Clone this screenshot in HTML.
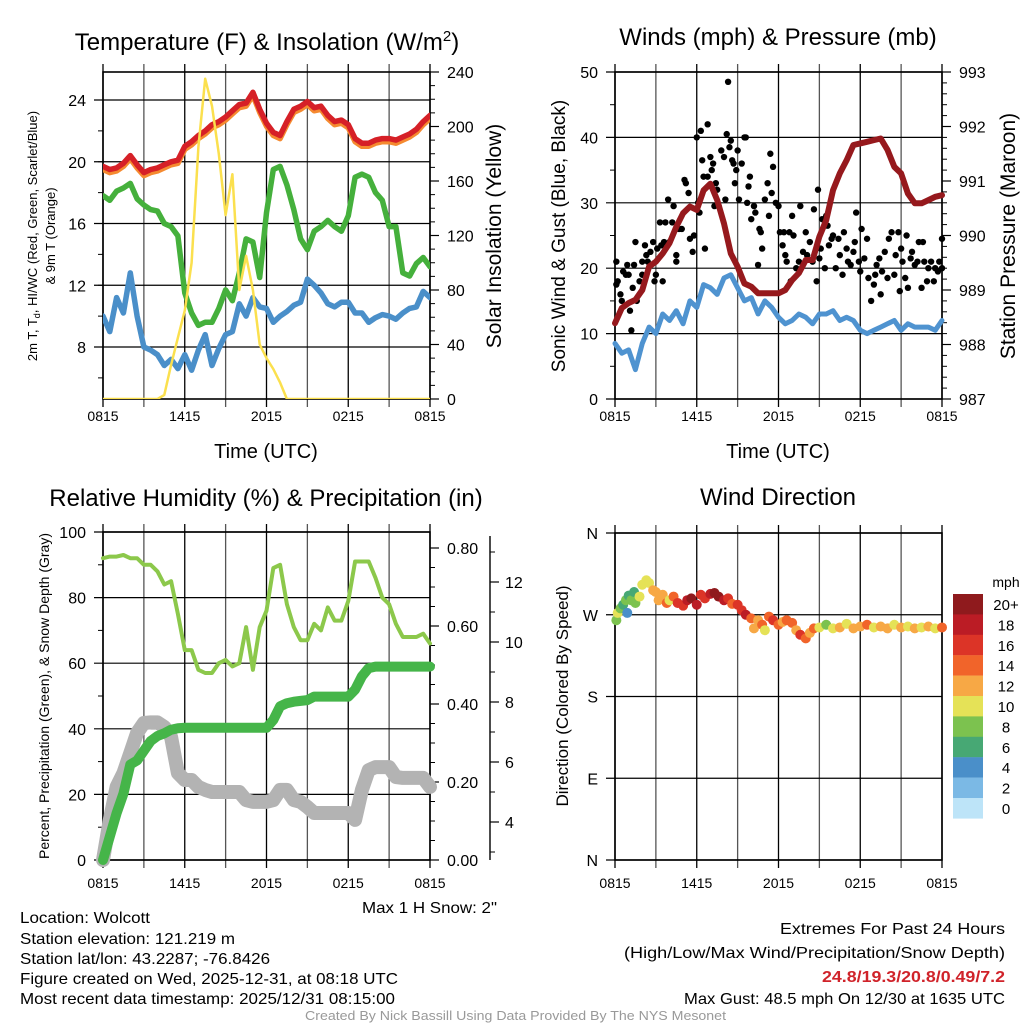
<!DOCTYPE html>
<html><head><meta charset="utf-8"><title>Mesonet Meteogram - Wolcott</title>
<style>
html,body{margin:0;padding:0;background:#fff;}
svg{display:block;font-family:"Liberation Sans",sans-serif;}
.n{font-family:"Liberation Sans Narrow","Liberation Sans",sans-serif;}
</style></head>
<body>
<svg id="fig" width="1024" height="1024" viewBox="0 0 1024 1024" xmlns="http://www.w3.org/2000/svg">
<rect x="0" y="0" width="1024" height="1024" fill="#fff"/>
<text x="267" y="50" font-size="24" text-anchor="middle">Temperature (F) &amp; Insolation (W/m<tspan dy="-9" font-size="15">2</tspan><tspan dy="9">)</tspan></text>
<text x="778" y="45" font-size="24" text-anchor="middle">Winds (mph) &amp; Pressure (mb)</text>
<text x="266" y="506" font-size="24" text-anchor="middle">Relative Humidity (%) &amp; Precipitation (in)</text>
<text x="778" y="505" font-size="24" text-anchor="middle">Wind Direction</text>
<text x="266" y="458" font-size="20" text-anchor="middle">Time (UTC)</text>
<text x="778" y="458" font-size="20" text-anchor="middle">Time (UTC)</text>
<text transform="translate(37,236) rotate(-90)" font-size="13" text-anchor="middle">2m T, T<tspan font-size="9" dy="3">d</tspan><tspan dy="-3">, HI/WC (Red, Green, Scarlet/Blue)</tspan></text>
<text transform="translate(55,236) rotate(-90)" font-size="13" text-anchor="middle">&amp; 9m T (Orange)</text>
<text transform="translate(501,236) rotate(-90)" font-size="21" text-anchor="middle">Solar Insolation (Yellow)</text>
<text transform="translate(565,236) rotate(-90)" font-size="19" text-anchor="middle">Sonic Wind &amp; Gust (Blue, Black)</text>
<text transform="translate(1015,236) rotate(-90)" font-size="21" text-anchor="middle">Station Pressure (Maroon)</text>
<text transform="translate(49,696) rotate(-90)" font-size="14" text-anchor="middle">Percent, Precipitation (Green), &amp; Snow Depth (Gray)</text>
<text transform="translate(568,696) rotate(-90)" font-size="17" text-anchor="middle">Direction (Colored By Speed)</text>
<text x="1006" y="587" font-size="14" text-anchor="middle">mph</text>
<g class="n" font-size="16" lengthAdjust="spacingAndGlyphs">
<text x="362" y="913" textLength="135" lengthAdjust="spacingAndGlyphs">Max 1 H Snow: 2"</text>
<text x="20" y="923" textLength="130" lengthAdjust="spacingAndGlyphs">Location: Wolcott</text>
<text x="20" y="944" textLength="215" lengthAdjust="spacingAndGlyphs">Station elevation: 121.219 m</text>
<text x="20" y="964" textLength="250" lengthAdjust="spacingAndGlyphs">Station lat/lon: 43.2287; -76.8426</text>
<text x="20" y="984" textLength="378" lengthAdjust="spacingAndGlyphs">Figure created on Wed, 2025-12-31, at 08:18 UTC</text>
<text x="20" y="1004" textLength="375" lengthAdjust="spacingAndGlyphs">Most recent data timestamp: 2025/12/31 08:15:00</text>
<text x="780" y="934" textLength="225" lengthAdjust="spacingAndGlyphs">Extremes For Past 24 Hours</text>
<text x="624" y="958" textLength="381" lengthAdjust="spacingAndGlyphs">(High/Low/Max Wind/Precipitation/Snow Depth)</text>
<text x="822" y="982" textLength="183" lengthAdjust="spacingAndGlyphs" fill="#d0232a" font-weight="bold">24.8/19.3/20.8/0.49/7.2</text>
<text x="684" y="1004" textLength="321" lengthAdjust="spacingAndGlyphs">Max Gust: 48.5 mph On 12/30 at 1635 UTC</text>
<text x="305" y="1020" textLength="421" lengthAdjust="spacingAndGlyphs" font-size="13" fill="#999">Created By Nick Bassill Using Data Provided By The NYS Mesonet</text>
</g>
</svg>
<script>
// ---------- DATA ----------
var xTickLabels = ["0815","1415","2015","0215","0815"];
var halfHours = []; for (var i=0;i<=48;i++) halfHours.push(i/2);
var tempRed = [19.7,19.5,19.6,19.9,20.4,19.8,19.3,19.5,19.6,19.8,20.0,20.1,21.0,21.3,21.7,22.0,22.4,22.6,22.9,23.3,23.7,23.8,24.5,23.4,22.5,21.9,21.7,22.6,23.4,23.6,23.9,23.5,23.6,23.0,22.6,22.7,22.4,21.5,21.2,21.2,21.4,21.5,21.5,21.4,21.6,21.8,22.1,22.6,23.0];
var tempOrange = [19.5,19.3,19.4,19.7,20.2,19.6,19.1,19.3,19.4,19.6,19.8,19.9,20.8,21.1,21.5,21.8,22.2,22.4,22.7,23.1,23.5,23.6,24.3,23.2,22.3,21.7,21.5,22.4,23.2,23.4,23.7,23.3,23.4,22.8,22.4,22.5,22.2,21.3,21.0,21.0,21.2,21.3,21.3,21.2,21.4,21.6,21.9,22.4,22.8];
var dewGreen = [17.8,17.5,18.1,18.3,18.6,17.6,17.2,16.9,16.8,16.0,15.8,15.2,11.5,10.2,9.4,9.6,9.6,10.5,11.7,11.0,12.8,15.0,14.8,12.5,16.7,19.5,19.7,18.5,16.9,15.0,14.3,15.5,15.8,16.2,15.8,15.5,16.5,19.0,19.2,19.0,18.0,17.5,15.8,15.8,12.8,12.6,13.4,13.8,13.2];
var windChill = [10.0,9.0,11.2,10.2,12.8,10.0,8.0,7.8,7.5,6.8,7.2,6.6,7.5,6.5,7.8,8.8,6.8,7.9,8.8,9.0,10.8,10.0,11.2,10.6,10.5,9.6,10.0,10.3,10.7,10.9,12.4,12.0,11.5,10.8,10.6,10.9,10.9,10.2,10.2,9.6,9.9,10.1,10.0,9.8,10.2,10.5,10.6,11.6,11.2];
var solar = [0,0,0,0,0,0,0,0,0,3,25,45,65,100,185,235,215,180,135,165,80,105,80,40,30,22,12,0,0,0,0,0,0,0,0,0,0,0,0,0,0,0,0,0,0,0,0,0,0];
var windSpeed = [8.5,7,7.5,4.5,8.5,11,10,13,12,13.5,11.5,15,14,17.5,17,16,18.5,19,17,15,15.5,13,15,14,12.5,11.5,12,13,12.5,11.5,13,13,13.5,12,12.5,12,10.5,10,10.5,11,11.5,12,10.5,11.5,11,11,11,10.5,12];
var pressure = [988.39,988.67,988.76,988.82,989.0,989.43,989.52,989.67,989.86,990.16,990.41,990.53,990.47,990.83,990.95,990.65,990.22,989.67,989.43,989.12,989.06,988.94,988.94,988.94,988.94,989.0,989.18,989.31,989.55,989.55,989.98,990.28,990.83,991.14,991.38,991.66,991.69,991.72,991.75,991.78,991.57,991.26,991.14,990.77,990.59,990.59,990.65,990.71,990.74];
var gustHours = [0.1,0.1,0.2,0.4,0.5,0.6,0.8,0.9,1.0,1.1,1.2,1.3,1.4,1.5,1.6,1.8,2.0,2.0,2.2,2.3,2.4,2.6,2.8,2.9,3.0,3.1,3.3,3.4,3.5,3.6,3.7,3.9,4.0,4.2,4.3,4.5,4.5,4.7,4.9,5.1,5.2,5.4,5.5,5.7,5.8,6.0,6.1,6.2,6.3,6.4,6.5,6.6,6.8,6.8,7.0,7.1,7.2,7.3,7.4,7.5,7.6,7.8,8.0,8.1,8.2,8.3,8.4,8.5,8.6,8.7,8.8,8.9,9.0,9.1,9.3,9.5,9.6,9.7,9.8,9.9,10.0,10.2,10.3,10.5,10.6,10.7,10.8,11.0,11.2,11.3,11.4,11.5,11.6,11.8,12.0,12.1,12.3,12.4,12.5,12.6,12.8,12.9,13.0,13.1,13.3,13.5,13.6,13.8,14.0,14.1,14.3,14.5,14.6,14.8,14.9,15.0,15.1,15.2,15.4,15.5,15.6,15.7,15.9,16.0,16.2,16.4,16.5,16.7,16.8,17.0,17.1,17.3,17.5,17.6,17.7,17.9,18.0,18.1,18.3,18.5,18.6,18.8,19.0,19.1,19.2,19.4,19.5,19.6,19.8,20.0,20.1,20.3,20.5,20.6,20.8,20.9,21.0,21.1,21.3,21.4,21.5,21.7,21.8,22.0,22.2,22.3,22.5,22.6,22.7,22.9,23.0,23.2,23.4,23.5,23.7,23.8,24.0,24.0];
var gustValues = [21,17.5,18,16,15,19.5,19,20.5,19,13.5,10.5,17,20.5,24,15,18,19,21,23.5,22,21,22.5,24,18,19,23,27,23.5,18,24,27,30.5,24,27,29.5,22,21,26,26,33.5,33,31.5,24.5,22.5,25,40,30,28.5,41,36.5,34,23,42,34,37,35,36,29.5,33,32,29.5,38,37,30.5,40.5,48.5,38.5,39.5,36.5,36,33,35,38,30.5,36,40,40,30,32.5,34,27.5,29.5,28.5,20.5,26,25.5,23,30.5,33,28,37.5,31.5,35.5,30,29.5,25.5,23.5,25.5,22,21,25.5,18,28,25,20,21,29.5,22.5,25.5,22,24,21,29,18,32,21.5,23,27.5,20,28,26.5,23.5,24.5,25,20,24.5,22,19,25.5,23,21,20.5,22.5,24,28.5,21,19.5,26,21.5,24.5,18.5,15,17.5,19,20.5,21.5,16,19.5,22.5,18.5,24.5,25.5,19,22,25.5,16.5,23,21,18.5,25,17,21.5,22.5,20.5,21,24,17,24,21,18,20,21,18,20,19.5,21,24.5,20];
var rhValues = [92,92.5,92.5,93,92,92,90,90,88,84,85,75,64,64,58,57,57,60,61,59,60,71,58,71,76,89,90,78,71,67,67,72,70,77,73,73,79,91,91,91,86,80,78,72,68,68,68,69,66];
var precipIn = [0,0.06,0.12,0.17,0.245,0.255,0.28,0.305,0.318,0.325,0.334,0.338,0.339,0.339,0.339,0.339,0.339,0.339,0.339,0.339,0.339,0.339,0.339,0.339,0.339,0.359,0.394,0.402,0.406,0.408,0.41,0.419,0.419,0.419,0.419,0.419,0.419,0.437,0.471,0.492,0.496,0.496,0.496,0.496,0.496,0.496,0.496,0.496,0.496];
var snowDepth = [2.73,4.07,5.17,5.63,6.3,6.97,7.3,7.32,7.32,7.17,6.83,5.63,5.4,5.4,5.17,5.07,5.0,5.0,5.0,5.0,5.0,4.73,4.67,4.67,4.67,4.73,5.07,5.07,4.73,4.67,4.5,4.3,4.3,4.3,4.3,4.3,4.3,4.07,5.07,5.73,5.83,5.83,5.83,5.5,5.47,5.47,5.47,5.47,5.17];
var dirHours = [0.1,0.2,0.4,0.6,0.8,0.9,1.0,1.2,1.4,1.5,1.8,2.0,2.3,2.5,2.8,3.0,3.2,3.5,3.8,4.0,4.3,4.6,5.0,5.3,5.6,6.0,6.3,6.6,7.0,7.3,7.6,8.0,8.3,8.6,9.0,9.3,9.6,10.0,10.2,10.5,10.8,11.0,11.3,11.6,12.0,12.3,12.6,13.0,13.3,13.6,14.0,14.3,14.6,15.0,15.5,16.0,16.5,17.0,17.5,18.0,18.5,19.0,19.5,20.0,20.5,21.0,21.5,22.0,22.5,23.0,23.5,24.0];
var dirDegrees = [264,272,277,281,286,272,291,286,295,283,290,303,308,305,297,295,286,292,283,286,290,283,280,286,288,281,292,288,293,294,290,286,288,282,281,275,270,266,255,264,259,253,268,264,259,262,264,261,253,248,244,250,255,256,259,255,256,260,255,257,259,256,257,255,259,256,257,255,256,257,255,256];
var dirSpeeds = [8,10,8,7,8,4,7,8,6,8,10,10,10,10,12,12,12,13,14,10,14,16,17,18,20,18,17,16,18,20,20,18,16,14,16,17,18,14,12,12,14,10,15,16,14,12,14,14,12,16,14,12,14,10,8,10,12,10,12,12,14,10,12,12,10,12,10,12,10,12,10,15];
var cbLabels = ["20+","18","16","14","12","10","8","6","4","2","0"];
var cbColors = ["#8f1a1d","#bb1c25","#dc3427","#f1642a","#f7a845","#e5e257","#7cc24f","#47a874","#4a8fc9","#7bb9e5","#bde4f8"];
var tempTicks = [8,12,16,20,24];
var solarTicks = [0,40,80,120,160,200,240];
var windTicks = [0,10,20,30,40,50];
var presTicks = [987,988,989,990,991,992,993];
var rhTicks = [0,20,40,60,80,100];
var precipTicks = [0,0.2,0.4,0.6,0.8];
var snowTicks = [4,6,8,10,12];
var dirTicks = ["N","E","S","W","N"];

// ---------- HELPERS ----------
var NS = "http://www.w3.org/2000/svg";
var svg = document.getElementById("fig");
function mk(parent, tag, attrs, name) {
  var el = document.createElementNS(NS, tag);
  for (var k in attrs) el.setAttribute(k, attrs[k]);
  
  
  parent.appendChild(el);
  return el;
}
function lin(d0, d1, r0, r1) { return function (v) { return r0 + (v - d0) * (r1 - r0) / (d1 - d0); }; }
function pathOf(xs, ys, fx, fy) {
  var d = "";
  for (var i = 0; i < xs.length; i++) d += (i ? "L" : "M") + fx(xs[i]).toFixed(1) + "," + fy(ys[i]).toFixed(1);
  return d;
}
function fmt2(v){ return v.toFixed(2); }

function panel(P, key) {
  var g = mk(svg, "g", {}, key + "-panel");
  var fx = lin(0, 24, P.x0, P.x1);
  for (var h = 0; h <= 24; h += 3) {
    var x = fx(h);
    mk(g, "line", {x1:x, y1:P.y0 - 8, x2:x, y2:P.y1 + 8, stroke: (h % 6 === 0 ? "#000" : "#555"), "stroke-width":1.3}, key + "-vgrid");
  }
  for (var j = 0; j < xTickLabels.length; j++) {
    var t = mk(g, "text", {x: fx(j * 6), y: P.y1 + P.xlOff, "font-size": 14, "text-anchor": "middle"}, key + "-x-tick-label");
    t.textContent = xTickLabels[j];
  }
  P.lTicks.forEach(function (v, i) {
    var y = P.fl(v);
    mk(g, "line", {x1:P.x0 - 9, y1:y, x2:P.x1, y2:y, stroke:"#000", "stroke-width":1.2}, key + "-hgrid");
    var t = mk(g, "text", {x: P.x0 - 17, y: y + 6, "font-size": 16, "text-anchor": "end"}, key + "-y-tick-label");
    t.textContent = P.lLabels ? P.lLabels[i] : v;
  });
  if (P.lMinor) P.lMinor.forEach(function (v) {
    var y = P.fl(v);
    mk(g, "line", {x1:P.x0 - 5, y1:y, x2:P.x0, y2:y, stroke:"#000", "stroke-width":1}, key + "-minor-tick");
  });
  if (P.rTicks) {
    P.rTicks.forEach(function (v, i) {
      var y = P.fr(v);
      mk(g, "line", {x1:P.x1, y1:y, x2:P.x1 + 9, y2:y, stroke:"#000", "stroke-width":1.2}, key + "-right-tick");
      var t = mk(g, "text", {x: P.x1 + 17, y: y + 6, "font-size": 16}, key + "-right-tick-label");
      t.textContent = P.rLabels ? P.rLabels[i] : v;
    });
    P.rMinor.forEach(function (v) {
      var y = P.fr(v);
      mk(g, "line", {x1:P.x1, y1:y, x2:P.x1 + 5, y2:y, stroke:"#000", "stroke-width":1}, key + "-right-minor-tick");
    });
  }
  mk(g, "rect", {x:P.x0, y:P.y0, width:P.x1 - P.x0, height:P.y1 - P.y0, fill:"none", stroke:"#000", "stroke-width":1.6}, key + "-frame");
  return {g: g, fx: fx};
}
function minors(a, b, s){ var r=[]; for (var v=a; v<=b+1e-9; v+=s) r.push(+v.toFixed(4)); return r; }

// ---------- TEMPERATURE PANEL ----------
var T = {x0:103, x1:430, y0:72, y1:399, xlOff:22};
T.fl = lin(8, 24, 347, 100); T.fr = lin(0, 240, 399, 72);
T.lTicks = tempTicks; T.lMinor = minors(6, 24, 2);
T.rTicks = solarTicks; T.rMinor = minors(0, 240, 10);
var pT = panel(T, "temp");
var clipT = mk(svg, "clipPath", {id:"clipT"}, "temp-clip");
mk(clipT, "rect", {x:T.x0, y:T.y0, width:T.x1-T.x0, height:T.y1-T.y0}, "temp-clip-rect");
var gT = mk(svg, "g", {"clip-path":"url(#clipT)", "stroke-linejoin":"round", "stroke-linecap":"round", fill:"none"}, "temp-series");
mk(gT, "path", {d: pathOf(halfHours, windChill, pT.fx, T.fl), stroke:"#4a8fc9", "stroke-width":5.5}, "wind-chill-line");
mk(gT, "path", {d: pathOf(halfHours, dewGreen, pT.fx, T.fl), stroke:"#45b03c", "stroke-width":5.5}, "dewpoint-line");
mk(gT, "path", {d: pathOf(halfHours, tempOrange, pT.fx, T.fl), stroke:"#f58a30", "stroke-width":5.5}, "temp-9m-line");
mk(gT, "path", {d: pathOf(halfHours, tempRed, pT.fx, T.fl), stroke:"#d62027", "stroke-width":5.5}, "temp-2m-line");
mk(gT, "path", {d: pathOf(halfHours, solar, pT.fx, T.fr), stroke:"#fbe04e", "stroke-width":2.5}, "solar-line");

// ---------- WIND PANEL ----------
var W = {x0:615, x1:942, y0:72, y1:399, xlOff:22};
W.fl = lin(0, 50, 399, 72); W.fr = lin(987, 993, 399, 72);
W.lTicks = windTicks; W.lMinor = minors(5, 45, 10);
W.rTicks = presTicks; W.rMinor = minors(987, 993, 0.2);
var pW = panel(W, "wind");
var clipW = mk(svg, "clipPath", {id:"clipW"}, "wind-clip");
mk(clipW, "rect", {x:W.x0-6, y:W.y0, width:W.x1-W.x0+12, height:W.y1-W.y0}, "wind-clip-rect");
var gW = mk(svg, "g", {"clip-path":"url(#clipW)", "stroke-linejoin":"round", "stroke-linecap":"round", fill:"none"}, "wind-series");
mk(gW, "path", {d: pathOf(halfHours, windSpeed, pW.fx, W.fl), stroke:"#4f93d0", "stroke-width":5}, "wind-speed-line");
for (var i = 0; i < gustHours.length; i++) {
  mk(gW, "circle", {cx: pW.fx(gustHours[i]), cy: W.fl(gustValues[i]), r: 3.2, fill:"#000", stroke:"none"}, "gust-point");
}
mk(gW, "path", {d: pathOf(halfHours, pressure, pW.fx, W.fr), stroke:"#96191d", "stroke-width":6}, "pressure-line");

// ---------- HUMIDITY PANEL ----------
var H = {x0:103, x1:430, y0:532, y1:860, xlOff:28};
H.fl = lin(0, 100, 860, 532); H.fr = lin(0, 0.8, 860, 548);
H.lTicks = rhTicks; H.lMinor = minors(10, 90, 20);
H.rTicks = precipTicks; H.rLabels = precipTicks.map(fmt2); H.rMinor = minors(0, 0.84, 0.05);
var pH = panel(H, "humidity");
var fs = lin(4, 12, 822, 582);
mk(svg, "line", {x1:490, y1:536, x2:490, y2:860, stroke:"#000", "stroke-width":1.4}, "snow-axis-line");
snowTicks.forEach(function (v) {
  mk(svg, "line", {x1:490, y1:fs(v), x2:499, y2:fs(v), stroke:"#000", "stroke-width":1.2}, "snow-tick");
  var t = mk(svg, "text", {x:505, y:fs(v) + 6, "font-size":16}, "snow-tick-label");
  t.textContent = v;
});
minors(3, 13, 1).forEach(function (v) {
  if (fs(v) > 536 && fs(v) < 860) mk(svg, "line", {x1:490, y1:fs(v), x2:495, y2:fs(v), stroke:"#000", "stroke-width":1}, "snow-minor-tick");
});
var gH = mk(svg, "g", {"stroke-linejoin":"round", "stroke-linecap":"round", fill:"none"}, "humidity-series");
mk(gH, "path", {d: pathOf(halfHours, snowDepth, pH.fx, fs), stroke:"#b3b3b3", "stroke-width":14}, "snow-depth-line");
mk(gH, "path", {d: pathOf(halfHours, precipIn, pH.fx, H.fr), stroke:"#45b549", "stroke-width":10}, "precip-line");
mk(gH, "path", {d: pathOf(halfHours, rhValues, pH.fx, H.fl), stroke:"#8cc84b", "stroke-width":4}, "rh-line");

// ---------- WIND DIRECTION PANEL ----------
var D = {x0:615, x1:942, y0:533, y1:860, xlOff:28};
D.fl = lin(0, 360, 860, 533);
D.lTicks = [0, 90, 180, 270, 360]; D.lLabels = dirTicks;
var pD = panel(D, "direction");
function spdColor(s){ var idx = Math.min(10, Math.max(0, Math.floor(s / 2))); return cbColors[10 - idx]; }
for (var i = 0; i < dirHours.length; i++) {
  mk(svg, "circle", {cx: pD.fx(dirHours[i]), cy: D.fl(dirDegrees[i]), r: 5, fill: spdColor(dirSpeeds[i])}, "direction-point");
}
cbColors.forEach(function (col, i) {
  mk(svg, "rect", {x:953, y:594 + i * 20.4, width:30, height:20.6, fill:col}, "colorbar-swatch");
  var t = mk(svg, "text", {x:1006, y:610 + i * 20.4, "font-size":15, "text-anchor":"middle"}, "colorbar-label");
  t.textContent = cbLabels[i];
});
</script>
</body></html>
